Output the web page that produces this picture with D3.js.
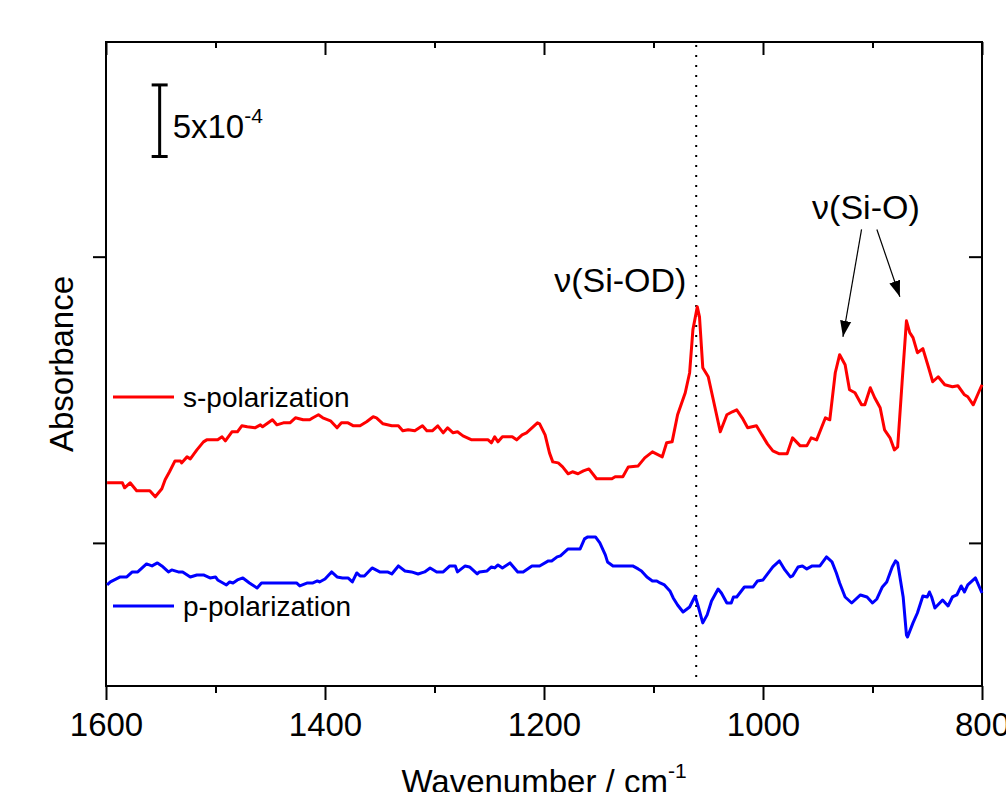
<!DOCTYPE html>
<html>
<head>
<meta charset="utf-8">
<script src="https://cdn.jsdelivr.net/npm/d3@7"></script>
<style>
  body { margin: 0; background: #fff; }
  svg text { font-family: Arial, "Liberation Sans", sans-serif; fill: #000; }
</style>
</head>
<body>
<script>
// wavenumbers (cm-1) and absorbance in units of 1e-4
const sWave = [1599,1585,1583,1578,1572,1560,1555,1549,1546,1542,1537,1532,1531,1526,1523,1517,1511,1508,1498,1494,1491,1485,1480,1476,1471,1464,1459,1457,1448,1444,1438,1432,1427,1420,1414,1411,1406,1402,1395,1389,1385,1379,1374,1368,1362,1356,1353,1347,1339,1333,1329,1324,1318,1311,1307,1302,1297,1292,1288,1283,1279,1274,1266,1251,1248,1245,1242,1238,1229,1225,1220,1216,1210,1206,1204,1199,1195,1192,1187,1183,1178,1174,1169,1164,1159,1152,1138,1135,1128,1123,1114,1108,1101,1092,1088,1083,1078,1071,1067,1064,1060,1058,1055,1050,1046,1039,1033,1028,1024,1019,1014,1006,996,991,985,978,973,966,960,956,951,943,939,934,930,925,921,916,910,907,902,898,893,889,884,880,877,873,869,866,863,859,854,849,845,840,834,827,822,816,813,808,804,800]
const sAbs = [4.20,4.20,3.85,4.20,3.64,3.64,3.22,3.78,4.41,4.97,5.73,5.73,5.59,6.01,5.87,6.50,7.06,7.20,7.20,7.41,7.13,7.76,7.76,8.18,8.11,8.04,8.25,8.11,8.60,8.25,8.39,8.39,8.74,8.60,8.60,8.74,8.95,8.74,8.53,8.04,8.39,8.39,8.18,8.18,8.46,8.81,8.74,8.32,8.18,8.18,7.83,7.90,7.83,8.18,7.83,7.83,8.18,7.69,8.04,7.69,7.76,7.48,7.20,7.20,6.99,7.41,7.06,7.41,7.41,7.20,7.55,7.69,8.11,8.39,8.32,7.55,6.29,5.66,5.59,5.31,4.83,4.97,4.83,5.03,5.17,4.48,4.48,4.62,4.62,5.31,5.38,5.94,6.36,6.01,7.00,7.06,8.95,10.49,11.89,14.90,16.50,15.80,12.24,11.61,10.21,7.76,8.95,9.16,9.30,8.74,8.04,8.18,6.92,6.43,6.22,6.22,7.34,6.78,6.78,7.34,7.20,8.74,8.60,11.89,13.15,12.45,10.70,10.49,9.65,9.65,10.84,10.14,9.44,7.90,7.34,6.50,6.71,11.19,15.52,14.69,14.34,13.29,13.57,12.31,11.26,11.61,11.05,10.91,10.98,10.35,10.21,9.65,10.35,11.05]

const pWave = [1599,1596,1587,1581,1576,1571,1563,1558,1553,1549,1543,1540,1534,1530,1523,1517,1511,1505,1500,1498,1490,1487,1484,1480,1475,1469,1462,1458,1453,1426,1423,1416,1411,1407,1405,1400,1394,1389,1384,1379,1375,1371,1368,1364,1357,1350,1343,1339,1333,1327,1321,1315,1309,1304,1298,1292,1286,1281,1279,1272,1268,1261,1259,1252,1248,1245,1242,1238,1231,1224,1219,1211,1204,1196,1193,1188,1185,1178,1167,1163,1160,1153,1149,1144,1142,1137,1119,1114,1111,1106,1101,1097,1094,1090,1085,1082,1078,1073,1067,1062,1059,1055,1051,1047,1041,1038,1033,1029,1027,1024,1017,1009,1005,1000,991,987,985,980,975,973,968,964,960,955,948,942,937,933,930,925,919,911,905,900,896,891,887,882,879,877,872,869,868,863,859,854,850,848,846,843,836,831,827,823,819,816,813,806,800]
const pAbs = [-2.94,-2.73,-2.38,-2.38,-2.03,-2.03,-1.47,-1.61,-1.40,-1.61,-2.03,-1.89,-2.03,-2.03,-2.38,-2.24,-2.24,-2.45,-2.38,-2.59,-2.94,-2.73,-2.80,-2.59,-2.45,-2.80,-3.15,-2.80,-2.80,-2.80,-3.01,-2.80,-2.80,-2.66,-2.73,-2.52,-2.03,-2.38,-2.45,-2.45,-2.73,-2.10,-2.31,-2.31,-1.75,-2.03,-2.03,-2.17,-1.61,-1.96,-2.03,-2.17,-2.03,-1.75,-2.03,-2.03,-1.61,-1.61,-2.03,-1.61,-1.68,-2.17,-2.03,-1.96,-1.68,-1.75,-1.54,-1.75,-1.40,-2.03,-2.03,-1.61,-1.61,-1.26,-1.26,-0.98,-0.91,-0.42,-0.42,0.28,0.42,0.42,0.00,-0.84,-1.33,-1.61,-1.61,-1.82,-1.96,-2.38,-2.66,-2.66,-2.80,-2.94,-3.36,-3.85,-4.34,-4.83,-4.48,-3.71,-4.48,-5.59,-5.03,-4.06,-3.22,-3.50,-4.20,-4.20,-3.78,-3.78,-3.08,-3.08,-2.66,-2.59,-1.68,-1.40,-1.26,-1.89,-2.38,-2.31,-1.68,-1.61,-1.82,-1.61,-1.61,-0.98,-1.33,-2.10,-2.80,-3.78,-4.20,-3.64,-3.78,-4.20,-3.92,-3.08,-2.73,-1.68,-1.26,-1.40,-3.78,-6.43,-6.57,-5.59,-4.90,-3.71,-3.78,-3.43,-3.78,-4.55,-3.99,-4.41,-3.78,-3.64,-3.01,-3.43,-2.94,-2.45,-3.50]

const xMajor = [1600, 1400, 1200, 1000, 800]
const xMinor = [1500, 1300, 1100, 900]
const yTicks = [0, 20]
const markerWave = 1061

let margin = { top: 42, right: 24, bottom: 106, left: 106 },
    width = 1006 - margin.left - margin.right,
    height = 792 - margin.top - margin.bottom;

let svg = d3.select("body").append("svg")
    .attr("width", 1006)
    .attr("height", 792)
    .append("g")
    .attr("transform", "translate(" + margin.left + "," + margin.top + ")");

let x = d3.scaleLinear().domain([1600, 800]).range([0, width])
let y = d3.scaleLinear().domain([-10, 35]).range([height, 0])

// axes
let bottom = svg.append("g").attr("transform", "translate(0," + height + ")")
bottom.call(d3.axisBottom(x).tickValues(xMajor).tickSize(14).tickPadding(13).tickFormat(d3.format("d")))
bottom.selectAll("text").style("font-size", "33px")
svg.append("g").attr("transform", "translate(0," + height + ")")
    .call(d3.axisBottom(x).tickValues(xMinor).tickSize(7).tickFormat(""))
svg.append("g").call(d3.axisTop(x).tickValues(xMajor).tickSize(-13).tickFormat(""))
svg.append("g").call(d3.axisTop(x).tickValues(xMinor).tickSize(-6).tickFormat(""))
svg.append("g").call(d3.axisLeft(y).tickValues(yTicks).tickSize(13).tickFormat(""))
svg.append("g").attr("transform", "translate(" + width + ",0)")
    .call(d3.axisRight(y).tickValues(yTicks).tickSize(-13).tickFormat(""))
svg.selectAll(".domain").remove()
svg.selectAll(".tick line").attr("stroke", "#000").attr("stroke-width", 2)

// frame
svg.append("rect")
    .attr("width", width).attr("height", height)
    .attr("fill", "none").attr("stroke", "#000").attr("stroke-width", 2)

// dotted marker line
svg.append("line")
    .attr("x1", x(markerWave)).attr("x2", x(markerWave))
    .attr("y1", 3).attr("y2", height)
    .attr("stroke", "#000").attr("stroke-width", 2).attr("stroke-dasharray", "2,8")

// spectra
let line = d3.line().x(d => x(d[0])).y(d => y(d[1]))
svg.append("path").datum(d3.zip(sWave, sAbs))
    .attr("d", line).attr("fill", "none").attr("stroke", "#ff0000").attr("stroke-width", 3).attr("stroke-linejoin", "round")
svg.append("path").datum(d3.zip(pWave, pAbs))
    .attr("d", line).attr("fill", "none").attr("stroke", "#0000ff").attr("stroke-width", 3).attr("stroke-linejoin", "round")

// legend entries
let legend = [["s-polarization", "#ff0000", 355], ["p-polarization", "#0000ff", 564]]
legend.forEach(l => {
    svg.append("line").attr("x1", 7).attr("x2", 68).attr("y1", l[2]).attr("y2", l[2])
        .attr("stroke", l[1]).attr("stroke-width", 3)
    svg.append("text").attr("x", 77).attr("y", l[2] + 10).style("font-size", "28px").text(l[0])
})

// scale bar 5x10^-4
let sbx = x(1551)
svg.append("line").attr("x1", sbx).attr("x2", sbx).attr("y1", y(32)).attr("y2", y(27)).attr("stroke", "#000").attr("stroke-width", 3)
;[32, 27].forEach(v => {
    svg.append("line").attr("x1", sbx - 8).attr("x2", sbx + 8).attr("y1", y(v)).attr("y2", y(v)).attr("stroke", "#000").attr("stroke-width", 3)
})
let sb = svg.append("text").attr("x", sbx + 13).attr("y", 96).style("font-size", "33px")
sb.append("tspan").text("5x10")
sb.append("tspan").attr("dy", -15).style("font-size", "21px").text("-4")

// peak labels
svg.append("text").attr("x", x(1070)).attr("y", y(17.5)).attr("text-anchor", "end")
    .style("font-size", "34px").text("ν(Si-OD)")
svg.append("text").attr("x", x(906)).attr("y", y(22.6)).attr("text-anchor", "middle")
    .style("font-size", "34px").text("ν(Si-O)")

// arrows
svg.append("defs").append("marker")
    .attr("id", "head").attr("viewBox", "0 0 10 10").attr("refX", 10).attr("refY", 5)
    .attr("markerWidth", 16).attr("markerHeight", 16).attr("markerUnits", "userSpaceOnUse")
    .attr("orient", "auto")
    .append("path").attr("d", "M0,1.5L10,5L0,8.5Z").attr("fill", "#000")
let arrows = [[910, 21.9, 927, 14.4], [896, 21.9, 875, 17.2]]
arrows.forEach(a => {
    svg.append("line")
        .attr("x1", x(a[0])).attr("y1", y(a[1])).attr("x2", x(a[2])).attr("y2", y(a[3]))
        .attr("stroke", "#000").attr("stroke-width", 1.2).attr("marker-end", "url(#head)")
})

// axis titles
let xt = svg.append("text").attr("x", width / 2).attr("y", 751).attr("text-anchor", "middle").style("font-size", "33px")
xt.append("tspan").text("Wavenumber / cm")
xt.append("tspan").attr("dy", -15).style("font-size", "21px").text("-1")
svg.append("text")
    .attr("transform", "translate(-33," + (height / 2) + ") rotate(-90)")
    .attr("text-anchor", "middle").style("font-size", "33px").text("Absorbance")
</script>
</body>
</html>
